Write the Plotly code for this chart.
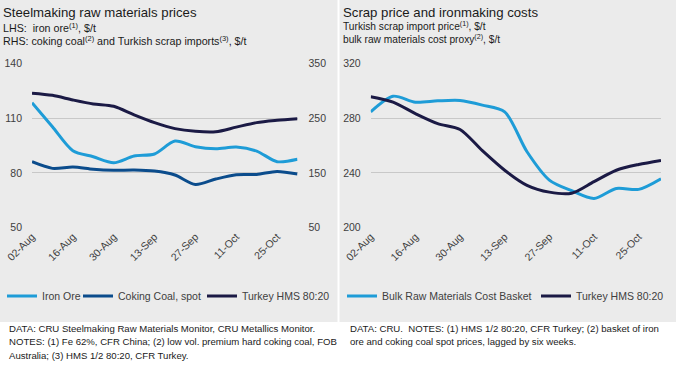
import plotly.graph_objects as go

# ---------------- data ----------------
dates = ["2019-08-02", "2019-08-09", "2019-08-16", "2019-08-23", "2019-08-30",
         "2019-09-06", "2019-09-13", "2019-09-20", "2019-09-27", "2019-10-04",
         "2019-10-11", "2019-10-18", "2019-10-25", "2019-11-01"]
tick_dates = dates[0:13:2]

iron_ore = [118.5, 105.3, 92.2, 88.9, 85.6, 89.3, 90.4, 97.5, 94.4, 93.3, 94.2, 92.0, 86.2, 87.5]
coking_coal = [170.5, 158.4, 160.8, 156.6, 154.8, 155.3, 153.5, 146.2, 129.0, 138.9, 146.7, 147.4, 152.9, 148.0]
turkey_hms = [295.7, 291.8, 283.4, 276.1, 271.8, 256.3, 242.0, 231.0, 226.0, 225.2, 233.7, 242.0, 246.2, 249.2]
bulk_basket = [284.7, 296.1, 291.7, 292.7, 293.0, 289.6, 284.7, 255.5, 234.8, 227.0, 221.4, 228.7, 228.0, 235.8]

left_ticks = [50, 80, 110, 140]
left_rhs_ticks = [50, 150, 250, 350]
right_ticks = [200, 240, 280, 320]

# ---------------- style ----------------
W, H = 676, 365
FONT = "Arial, Liberation Sans, sans-serif"
C_IRON = "#1E9CD7"
C_COAL = "#0B4C8C"
C_TURK = "#1B1A45"
C_BULK = "#1E9CD7"
BG = "#EBEBEB"
GRID = "#C8C8C8"
TXT = "#404040"


def px(x):
    return x / W


def py(y):
    return 1 - y / H


ydom = [py(227.7), py(63.5)]

fig = go.Figure()
line_kw = dict(shape="spline", smoothing=0.8, width=3)

fig.add_trace(go.Scatter(x=dates, y=iron_ore, name="Iron Ore", mode="lines",
                         line=dict(color=C_IRON, **line_kw), xaxis="x", yaxis="y",
                         legend="legend", showlegend=True))
fig.add_trace(go.Scatter(x=dates, y=coking_coal, name="Coking Coal, spot", mode="lines",
                         line=dict(color=C_COAL, **line_kw), xaxis="x", yaxis="y2",
                         legend="legend3", showlegend=True))
fig.add_trace(go.Scatter(x=dates, y=turkey_hms, name="Turkey HMS 80:20", mode="lines",
                         line=dict(color=C_TURK, **line_kw), xaxis="x", yaxis="y2",
                         legend="legend4", showlegend=True))
fig.add_trace(go.Scatter(x=dates, y=bulk_basket, name="Bulk Raw Materials Cost Basket", mode="lines",
                         line=dict(color=C_BULK, **line_kw), xaxis="x2", yaxis="y3",
                         legend="legend2", showlegend=True))
fig.add_trace(go.Scatter(x=dates, y=turkey_hms, name="Turkey HMS 80:20", mode="lines",
                         line=dict(color=C_TURK, **line_kw), xaxis="x2", yaxis="y3",
                         legend="legend5", showlegend=True))

tickfont = dict(family=FONT, size=10.5, color=TXT)
xcommon = dict(type="date", range=[dates[0], dates[-1]], tickvals=tick_dates,
               tickformat="%d-%b", tickangle=-45, showgrid=False, showline=False,
               zeroline=False, ticks="", tickfont=tickfont)


def leg(xpix):
    return dict(orientation="h", x=px(xpix), y=py(296), xanchor="left", yanchor="middle",
                font=dict(family=FONT, size=10.5, color=TXT), bgcolor="rgba(0,0,0,0)",
                itemwidth=30, tracegroupgap=0, visible=True)


fig.update_layout(
    width=W, height=H,
    showlegend=True,
    margin=dict(l=0, r=0, t=0, b=0, pad=0, autoexpand=False),
    paper_bgcolor="white",
    plot_bgcolor="rgba(0,0,0,0)",
    font=dict(family=FONT, color=TXT),
    hovermode=False,
    xaxis=dict(domain=[px(32), px(297.5)], anchor="y", **xcommon),
    xaxis2=dict(domain=[px(370.7), px(661)], anchor="y3", **xcommon),
    yaxis=dict(domain=ydom, anchor="x", range=[50, 140], tickvals=left_ticks,
               showgrid=True, gridcolor=GRID, gridwidth=1, zeroline=False,
               showline=False, ticks="", tickfont=tickfont, ticklabelstandoff=9),
    yaxis2=dict(domain=ydom, anchor="x", overlaying="y", side="right",
                range=[50, 350], tickvals=left_rhs_ticks, showgrid=False,
                zeroline=False, showline=False, ticks="", tickfont=tickfont,
                ticklabelstandoff=10),
    yaxis3=dict(domain=ydom, anchor="x2", range=[200, 320], tickvals=right_ticks,
                showgrid=True, gridcolor=GRID, gridwidth=1, zeroline=False,
                showline=False, ticks="", tickfont=tickfont, ticklabelstandoff=9),
    legend=leg(2),
    legend3=leg(78),
    legend4=leg(202),
    legend2=leg(342),
    legend5=leg(536),
    shapes=[
        dict(type="rect", xref="paper", yref="paper", x0=0, x1=px(337.5), y0=py(322), y1=1,
             fillcolor=BG, line=dict(width=0), layer="below"),
        dict(type="rect", xref="paper", yref="paper", x0=px(339.5), x1=1, y0=py(322), y1=1,
             fillcolor=BG, line=dict(width=0), layer="below"),
    ],
)

TITLE_C = "#1A1A1A"
SUB_C = "#1A1A1A"
NOTE_C = "#1A1A1A"


def ann(text, x, y, size, color, anchor="middle"):
    fig.add_annotation(text=text, x=px(x), y=py(y), xref="paper", yref="paper",
                       xanchor="left", yanchor=anchor, showarrow=False, align="left",
                       font=dict(family=FONT, size=size, color=color))


# left panel titles
ann("Steelmaking raw materials prices", 1, 13, 13.2, TITLE_C)
ann("LHS:  iron ore<sup>(1)</sup>, $/t", 1, 27, 10.7, SUB_C)
ann("RHS: coking coal<sup>(2)</sup> and Turkish scrap imports<sup>(3)</sup>, $/t", 1, 40, 10.7, SUB_C)

# right panel titles
ann("Scrap price and ironmaking costs", 341, 13, 13.2, TITLE_C)
ann("Turkish scrap import price<sup>(1)</sup>, $/t", 341, 26, 10.2, SUB_C)
ann("bulk raw materials cost proxy<sup>(2)</sup>, $/t", 341, 39, 10.2, SUB_C)

# footers
ann("DATA: CRU Steelmaking Raw Materials Monitor, CRU Metallics Monitor.", 7, 328, 9.6, NOTE_C)
ann("NOTES: (1) Fe 62%, CFR China; (2) low vol. premium hard coking coal, FOB", 7, 341, 9.6, NOTE_C)
ann("Australia; (3) HMS 1/2 80:20, CFR Turkey.", 7, 355, 9.6, NOTE_C)
ann("DATA: CRU.  NOTES: (1) HMS 1/2 80:20, CFR Turkey; (2) basket of iron", 348, 328, 9.6, NOTE_C)
ann("ore and coking coal spot prices, lagged by six weeks.", 348, 341, 9.6, NOTE_C)

fig.write_html("out.html", config={"displayModeBar": False},
               post_script="document.body.style.margin='0';document.body.style.overflow='hidden';")
